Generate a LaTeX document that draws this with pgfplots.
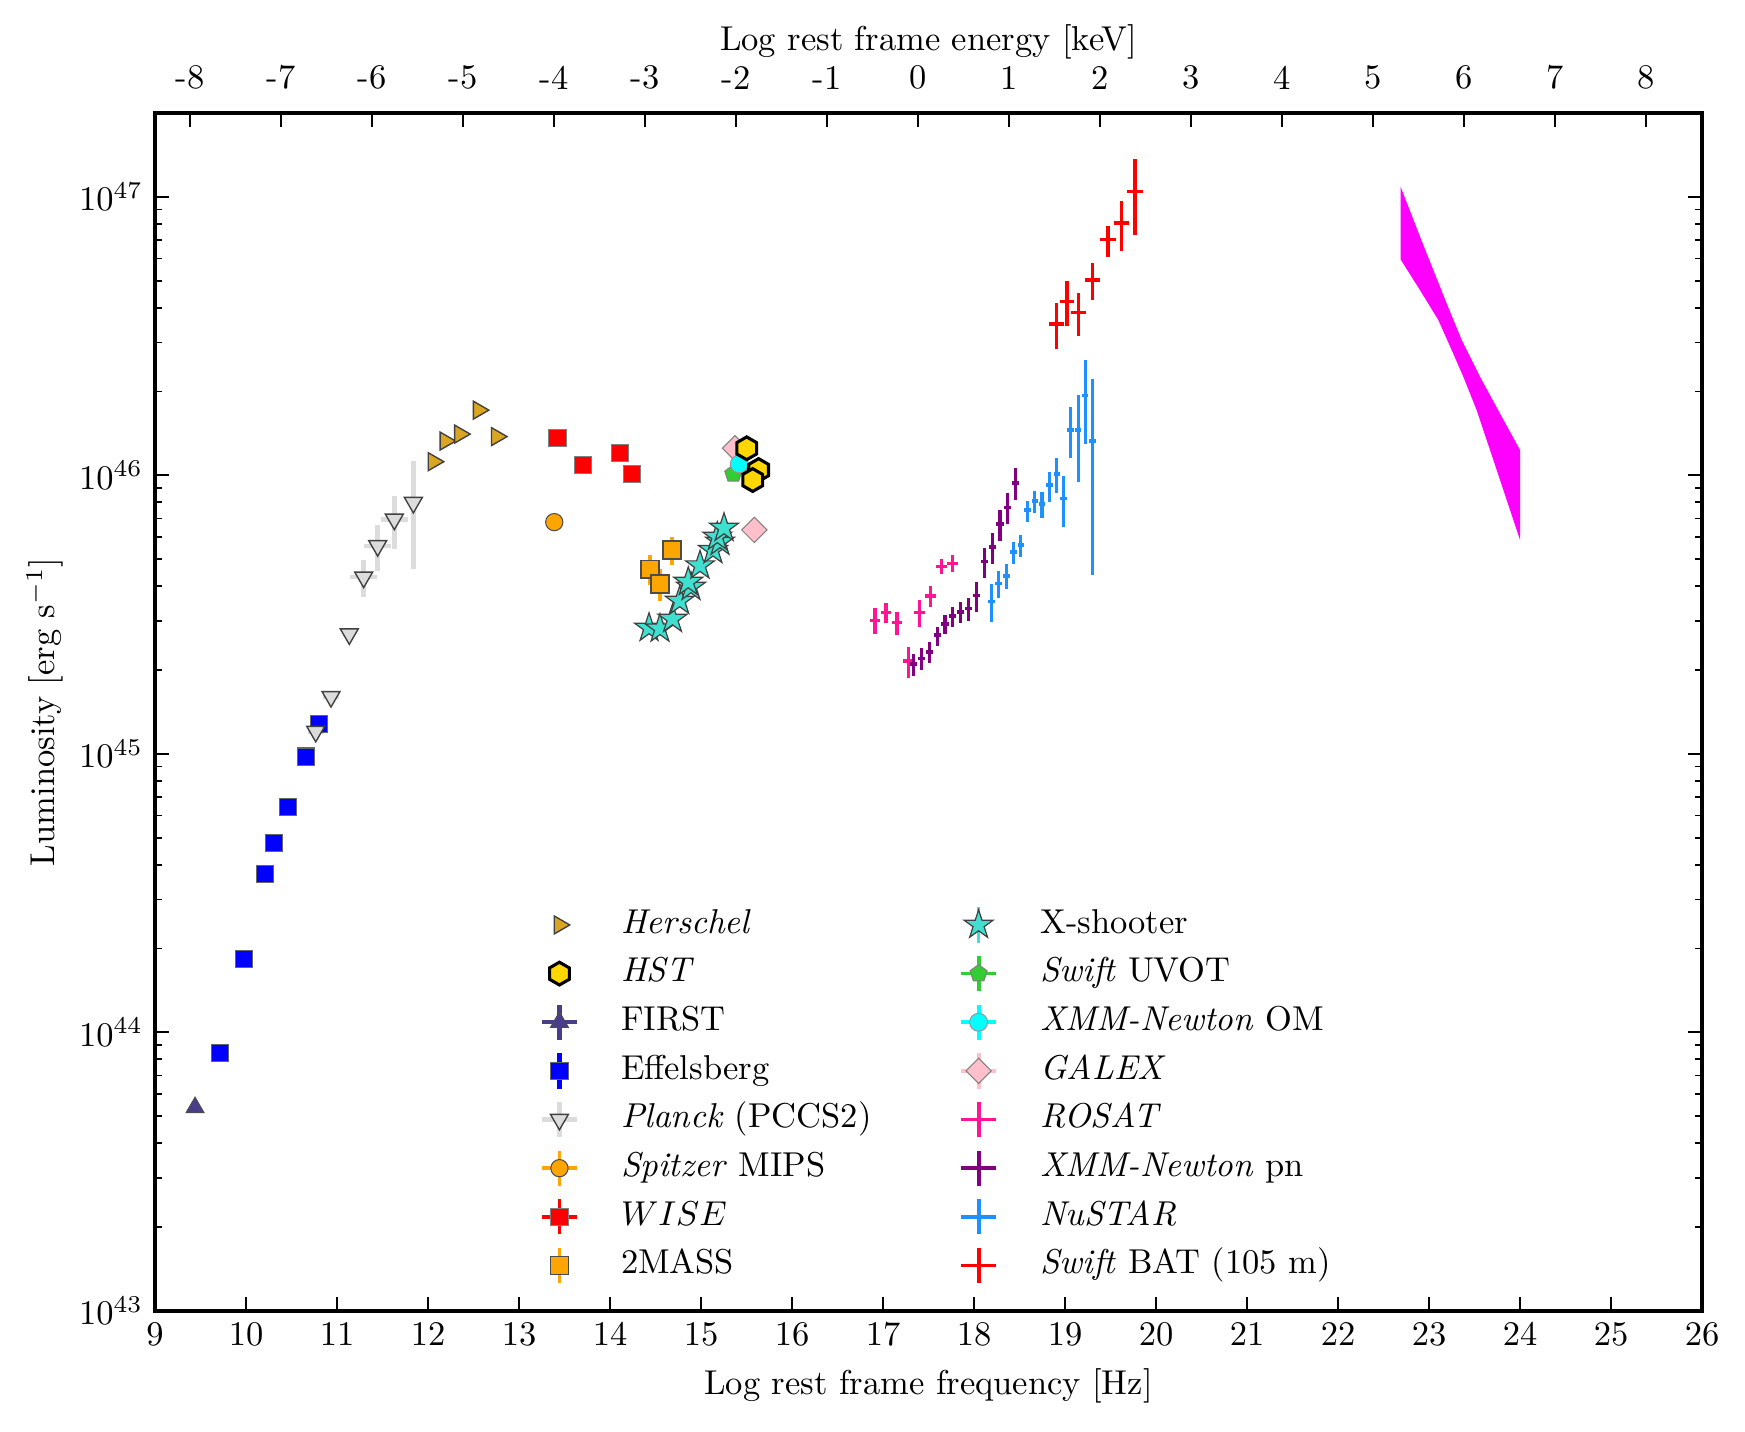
\documentclass[border=0pt]{standalone}
\usepackage{pgfplots}
\pgfplotsset{compat=1.18}
\usetikzlibrary{plotmarks}
\definecolor{goldenrod}{HTML}{DAA520}
\definecolor{goldM}{HTML}{FFD700}
\definecolor{dslate}{HTML}{483D8B}
\definecolor{gainsboro}{HTML}{DCDCDC}
\definecolor{orangeM}{HTML}{FFA500}
\definecolor{turq}{HTML}{40E0D0}
\definecolor{limeg}{HTML}{32CD32}
\definecolor{cyanM}{HTML}{00FFFF}
\definecolor{pinkM}{HTML}{FFC0CB}
\definecolor{deeppink}{HTML}{FF1493}
\definecolor{purpleM}{HTML}{800080}
\definecolor{dodger}{HTML}{1E90FF}
\definecolor{magentaM}{HTML}{FF00FF}
\definecolor{redM}{HTML}{FF0000}
\definecolor{blueM}{HTML}{0000FF}

\pgfdeclareplotmark{hexagon*}{%
  \pgfpathmoveto{\pgfpointpolar{90}{\pgfplotmarksize}}%
  \pgfpathlineto{\pgfpointpolar{150}{\pgfplotmarksize}}%
  \pgfpathlineto{\pgfpointpolar{210}{\pgfplotmarksize}}%
  \pgfpathlineto{\pgfpointpolar{270}{\pgfplotmarksize}}%
  \pgfpathlineto{\pgfpointpolar{330}{\pgfplotmarksize}}%
  \pgfpathlineto{\pgfpointpolar{30}{\pgfplotmarksize}}%
  \pgfpathclose
  \pgfusepathqfillstroke}
\pgfdeclareplotmark{fstar}{%
  \pgfpathmoveto{\pgfpointpolar{90}{\pgfplotmarksize}}%
  \pgfpathlineto{\pgfpointpolar{126}{0.382\pgfplotmarksize}}%
  \pgfpathlineto{\pgfpointpolar{162}{\pgfplotmarksize}}%
  \pgfpathlineto{\pgfpointpolar{198}{0.382\pgfplotmarksize}}%
  \pgfpathlineto{\pgfpointpolar{234}{\pgfplotmarksize}}%
  \pgfpathlineto{\pgfpointpolar{270}{0.382\pgfplotmarksize}}%
  \pgfpathlineto{\pgfpointpolar{306}{\pgfplotmarksize}}%
  \pgfpathlineto{\pgfpointpolar{342}{0.382\pgfplotmarksize}}%
  \pgfpathlineto{\pgfpointpolar{18}{\pgfplotmarksize}}%
  \pgfpathlineto{\pgfpointpolar{54}{0.382\pgfplotmarksize}}%
  \pgfpathclose
  \pgfusepathqfillstroke}

\tikzset{
 mFIRST/.style={mark=triangle*, mark size=3pt, mark options={solid, fill=dslate, draw=black!70, line width=0.3pt}},
 mEff/.style={mark=square*, mark size=2.5pt, mark options={solid, fill=blueM, draw=black!60, line width=0.3pt}},
 mPl/.style={mark=triangle*, mark size=3pt, mark options={solid, rotate=180, fill=gainsboro, draw=black!75, line width=0.4pt}},
 mHer/.style={mark=triangle*, mark size=3pt, mark options={solid, rotate=-90, fill=goldenrod, draw=black!75, line width=0.4pt}},
 mSpz/.style={mark=*, mark size=2.5pt, mark options={solid, fill=orangeM, draw=black!70, line width=0.3pt}},
 mWISE/.style={mark=square*, mark size=2.5pt, mark options={solid, fill=redM, draw=black!50, line width=0.3pt}},
 m2M/.style={mark=square*, mark size=2.6pt, mark options={solid, fill=orangeM, draw=black!70, line width=0.4pt}},
 mXS/.style={mark=fstar, mark size=4.4pt, mark options={solid, fill=turq, draw=black!75, line width=0.35pt}},
 mGal/.style={mark=square*, mark size=2.6pt, mark options={solid, rotate=45, fill=pinkM, draw=black!50, line width=0.3pt}},
 mUVOT/.style={mark=pentagon*, mark size=2.6pt, mark options={solid, fill=limeg, draw=black!50, line width=0.3pt}},
 mOM/.style={mark=*, mark size=2.6pt, mark options={solid, fill=cyanM, draw=black!40, line width=0.3pt}},
 mHST/.style={mark=hexagon*, mark size=3.3pt, mark options={solid, fill=goldM, draw=black, line width=0.9pt}},
}
\newcommand{\LgHV}[2]{\draw[#1] (0.12cm,0cm) -- (0.48cm,0cm) (0.3cm,-0.18cm) -- (0.3cm,0.18cm);
  \draw[#2] plot coordinates {(0.3cm,0cm)}; \path (0cm,0cm) (0.85cm,0cm);}
\newcommand{\LgV}[2]{\draw[#1] (0.3cm,-0.18cm) -- (0.3cm,0.18cm);
  \draw[#2] plot coordinates {(0.3cm,0cm)}; \path (0cm,0cm) (0.85cm,0cm);}
\newcommand{\LgM}[1]{\draw[#1] plot coordinates {(0.3cm,0cm)}; \path (0cm,0cm) (0.85cm,0cm);}
\newcommand{\LgX}[1]{\draw[#1] (0.12cm,0cm) -- (0.48cm,0cm) (0.3cm,-0.18cm) -- (0.3cm,0.18cm); \path (0cm,0cm) (0.85cm,0cm);}

\begin{document}
\begin{tikzpicture}
\begin{axis}[
  scale only axis, width=448.4pt, height=347.2pt,
  xmin=9, xmax=26, ymin=43, ymax=47.30103,
  xtick={9,...,26}, xtick pos=bottom,
  ytick={43,...,47},
  yticklabels={$10^{43}$,$10^{44}$,$10^{45}$,$10^{46}$,$10^{47}$},
  minor ytick={43.30103,43.47712,43.60206,43.69897,43.77815,43.84510,43.90309,43.95424,
   44.30103,44.47712,44.60206,44.69897,44.77815,44.84510,44.90309,44.95424,
   45.30103,45.47712,45.60206,45.69897,45.77815,45.84510,45.90309,45.95424,
   46.30103,46.47712,46.60206,46.69897,46.77815,46.84510,46.90309,46.95424},
  ytick pos=both,
  tick align=inside,
  major tick length=4pt, minor tick length=2pt,
  tick style={line width=0.5pt, black},
  axis line style={line width=1.1pt},
  xlabel={Log rest frame frequency [Hz]},
  ylabel={Luminosity [erg s$^{-1}$]},
  ylabel shift=-2.3pt,
  legend columns=2,
  legend cell align=left,
  legend style={at={(0.2415,0.017)}, anchor=south west, draw=none, fill=none,
    inner sep=0pt, row sep=0pt,
    nodes={text height=7.3pt, text depth=2.5pt, inner ysep=2.15pt},
    /tikz/column 2/.style={column sep=20.3pt}},
]
\coordinate (BL) at (rel axis cs:0,0);
\coordinate (TR) at (rel axis cs:1,1);

% Fermi-LAT bow-tie
\addplot[fill=magentaM, draw=none, forget plot] coordinates {
 (22.688,47.036) (22.901,46.857) (23.194,46.617) (23.359,46.486) (23.560,46.354)
 (23.780,46.222) (24.000,46.091)
 (24.000,45.768) (23.817,45.947) (23.670,46.091) (23.524,46.234) (23.377,46.354)
 (23.249,46.450) (23.103,46.557) (22.901,46.665) (22.688,46.775)} -- cycle;

% FIRST
\addplot[only marks, mFIRST, forget plot] coordinates {(9.44,43.73)};
% Effelsberg
\addplot[only marks, mEff, forget plot] coordinates {
 (9.714,43.925) (9.978,44.263) (10.212,44.569) (10.311,44.679) (10.458,44.810)
 (10.656,44.990) (10.799,45.107)};
% Planck
\addplot[only marks, mPl, forget plot,
  error bars/.cd, x dir=both, x explicit, y dir=both, y explicit,
  error mark=none, error bar style={draw=gainsboro, line width=1.3pt}] coordinates {
 (10.766,45.080) +- (0.09,0.0)
 (10.934,45.205) +- (0.09,0.0)
 (11.135,45.430) +- (0,0)
 (11.293,45.634) += (0.147,0.062) -= (0.147,0.071)
 (11.447,45.747) += (0.147,0.075) -= (0.147,0.089)
 (11.630,45.842) += (0.147,0.083) -= (0.147,0.108)
 (11.839,45.902) += (0,0.149) -= (0,0.239)};
% Herschel
\addplot[only marks, mHer, forget plot] coordinates {
 (12.06,46.049) (12.19,46.123) (12.35,46.148) (12.555,46.234) (12.755,46.139)};
% Spitzer
\addplot[only marks, mSpz, forget plot] coordinates {(13.387,45.832)};
% WISE
\addplot[only marks, mWISE, forget plot] coordinates {
 (13.423,46.135) (13.706,46.037) (14.110,46.079) (14.245,46.005)};
% 2MASS
\addplot[only marks, m2M, forget plot,
  error bars/.cd, y dir=both, y explicit,
  error mark=none, error bar style={draw=orangeM, line width=1.1pt}] coordinates {
 (14.440,45.663) += (0,0.051) -= (0,0.057)
 (14.549,45.610) += (0,0.053) -= (0,0.061)
 (14.681,45.732) += (0,0.048) -= (0,0.054)};
% X-shooter
\addplot[only marks, mXS, forget plot] coordinates {
 (14.429,45.452) (14.549,45.449) (14.687,45.484) (14.766,45.549) (14.890,45.599)
 (14.860,45.617) (14.989,45.676) (15.132,45.731) (15.209,45.761) (15.179,45.779)
 (15.253,45.811)};
% GALEX
\addplot[only marks, mGal, forget plot] coordinates {(15.374,46.097) (15.586,45.804)};
% Swift UVOT
\addplot[only marks, mUVOT, forget plot] coordinates {(15.355,46.005)};
% XMM OM
\addplot[only marks, mOM, forget plot] coordinates {(15.421,46.041)};
% HST
\addplot[only marks, mHST, forget plot] coordinates {
 (15.502,46.097) (15.633,46.019) (15.568,45.983)};
% ROSAT
\addplot[mark=none, draw=none, forget plot,
  error bars/.cd, x dir=both, x explicit, y dir=both, y explicit,
  error mark=none, error bar style={draw=deeppink, line width=1.0pt}] coordinates {
 (16.912,45.478) += (0.06,0.045) -= (0.06,0.048)
 (17.033,45.507) += (0.06,0.036) -= (0.06,0.038)
 (17.154,45.472) += (0.06,0.038) -= (0.06,0.045)
 (17.278,45.333) += (0.06,0.052) -= (0.06,0.062)
 (17.399,45.507) += (0.06,0.045) -= (0.06,0.050)
 (17.524,45.567) += (0.06,0.036) -= (0.06,0.039)
 (17.645,45.672) += (0.06,0.026) -= (0.06,0.027)
 (17.766,45.684) += (0.06,0.030) -= (0.06,0.032)};
% XMM pn
\addplot[mark=none, draw=none, forget plot,
  error bars/.cd, x dir=both, x explicit, y dir=both, y explicit,
  error mark=none, error bar style={draw=purpleM, line width=1.0pt}] coordinates {
 (17.333,45.322) += (0.04,0.037) -= (0.04,0.042)
 (17.425,45.343) += (0.04,0.038) -= (0.04,0.042)
 (17.509,45.365) += (0.04,0.036) -= (0.04,0.040)
 (17.596,45.426) += (0.04,0.031) -= (0.04,0.039)
 (17.681,45.466) += (0.04,0.033) -= (0.04,0.037)
 (17.765,45.495) += (0.04,0.031) -= (0.04,0.038)
 (17.853,45.510) += (0.04,0.036) -= (0.04,0.041)
 (17.941,45.521) += (0.04,0.037) -= (0.04,0.044)
 (18.029,45.568) += (0.04,0.048) -= (0.04,0.058)
 (18.113,45.690) += (0.04,0.048) -= (0.04,0.060)
 (18.201,45.742) += (0.04,0.052) -= (0.04,0.061)
 (18.286,45.825) += (0.04,0.050) -= (0.04,0.061)
 (18.370,45.885) += (0.04,0.053) -= (0.04,0.060)
 (18.458,45.972) += (0.04,0.053) -= (0.04,0.061)};
% NuSTAR
\addplot[mark=none, draw=none, forget plot,
  error bars/.cd, x dir=both, x explicit, y dir=both, y explicit,
  error mark=none, error bar style={draw=dodger, line width=1.0pt}] coordinates {
 (18.194,45.546) += (0.035,0.063) -= (0.035,0.071)
 (18.271,45.612) += (0.035,0.046) -= (0.035,0.053)
 (18.355,45.639) += (0.035,0.042) -= (0.035,0.048)
 (18.432,45.724) += (0.035,0.038) -= (0.035,0.042)
 (18.513,45.750) += (0.035,0.036) -= (0.035,0.042)
 (18.586,45.875) += (0.035,0.033) -= (0.035,0.042)
 (18.667,45.908) += (0.035,0.036) -= (0.035,0.042)
 (18.747,45.897) += (0.035,0.042) -= (0.035,0.051)
 (18.828,45.965) += (0.035,0.048) -= (0.035,0.060)
 (18.909,46.004) += (0.035,0.057) -= (0.035,0.069)
 (18.982,45.917) += (0.035,0.082) -= (0.035,0.104)
 (19.062,46.163) += (0.035,0.081) -= (0.035,0.102)
 (19.146,46.163) += (0.035,0.125) -= (0.035,0.186)
 (19.223,46.287) += (0.035,0.127) -= (0.035,0.176)
 (19.300,46.123) += (0.035,0.222) -= (0.035,0.481)};
% Swift BAT
\addplot[mark=none, draw=none, forget plot,
  error bars/.cd, x dir=both, x explicit, y dir=both, y explicit,
  error mark=none, error bar style={draw=redM, line width=1.0pt}] coordinates {
 (18.909,46.543) += (0.08,0.074) -= (0.08,0.091)
 (19.022,46.625) += (0.08,0.074) -= (0.08,0.088)
 (19.147,46.585) += (0.08,0.068) -= (0.08,0.084)
 (19.304,46.701) += (0.08,0.060) -= (0.08,0.072)
 (19.473,46.846) += (0.085,0.050) -= (0.085,0.062)
 (19.623,46.906) += (0.085,0.079) -= (0.085,0.101)
 (19.769,47.020) += (0.09,0.114) -= (0.09,0.158)};

% legend (interleaved for two columns)
\addlegendimage{legend image code/.code={\LgM{mHer}}}
\addlegendentry{\textit{Herschel}}
\addlegendimage{legend image code/.code={\LgV{turq, line width=1pt}{mXS}}}
\addlegendentry{X-shooter}
\addlegendimage{legend image code/.code={\LgM{mHST}}}
\addlegendentry{\textit{HST}}
\addlegendimage{legend image code/.code={\LgHV{limeg, line width=1.1pt}{mUVOT}}}
\addlegendentry{\textit{Swift} UVOT}
\addlegendimage{legend image code/.code={\LgHV{dslate, line width=1.2pt}{mFIRST}}}
\addlegendentry{FIRST}
\addlegendimage{legend image code/.code={\LgHV{cyanM, line width=1.1pt}{mOM}}}
\addlegendentry{\textit{XMM-Newton} OM}
\addlegendimage{legend image code/.code={\LgV{blueM, line width=1.2pt}{mEff}}}
\addlegendentry{Effelsberg}
\addlegendimage{legend image code/.code={\LgHV{pinkM, line width=1.1pt}{mGal}}}
\addlegendentry{\textit{GALEX}}
\addlegendimage{legend image code/.code={\LgHV{gainsboro, line width=1.4pt}{mPl}}}
\addlegendentry{\textit{Planck} (PCCS2)}
\addlegendimage{legend image code/.code={\LgX{deeppink, line width=1.1pt}}}
\addlegendentry{\textit{ROSAT}}
\addlegendimage{legend image code/.code={\LgHV{orangeM, line width=1.1pt}{mSpz}}}
\addlegendentry{\textit{Spitzer} MIPS}
\addlegendimage{legend image code/.code={\LgX{purpleM, line width=1.1pt}}}
\addlegendentry{\textit{XMM-Newton} pn}
\addlegendimage{legend image code/.code={\LgHV{redM, line width=1.1pt}{mWISE}}}
\addlegendentry{$WISE$}
\addlegendimage{legend image code/.code={\LgX{dodger, line width=1.1pt}}}
\addlegendentry{\textit{NuSTAR}}
\addlegendimage{legend image code/.code={\LgV{orangeM, line width=1.1pt}{m2M}}}
\addlegendentry{2MASS}
\addlegendimage{legend image code/.code={\LgX{redM, line width=1.1pt}}}
\addlegendentry{\textit{Swift} BAT (105 m)}
\end{axis}

\begin{axis}[
  scale only axis, width=448.4pt, height=347.2pt,
  xmin=-8.3837, xmax=8.6163, ymin=43, ymax=47.30103,
  axis x line*=top, axis y line=none,
  xtick={-8,...,8},
  xticklabels={-8,-7,-6,-5,-4,-3,-2,-1,0,1,2,3,4,5,6,7,8},
  xticklabel style={yshift=3.4pt},
  xlabel style={yshift=-5.3pt},
  tick align=inside, major tick length=4pt,
  tick style={line width=0.5pt, black},
  axis line style={line width=1.1pt},
  xlabel={Log rest frame energy [keV]},
]
\addplot[draw=none, forget plot] coordinates {(0,45)};
\end{axis}
\path ([xshift=-44.93pt,yshift=-35.07pt]BL) rectangle ([xshift=12.46pt,yshift=32.75pt]TR);
\end{tikzpicture}
\end{document}
